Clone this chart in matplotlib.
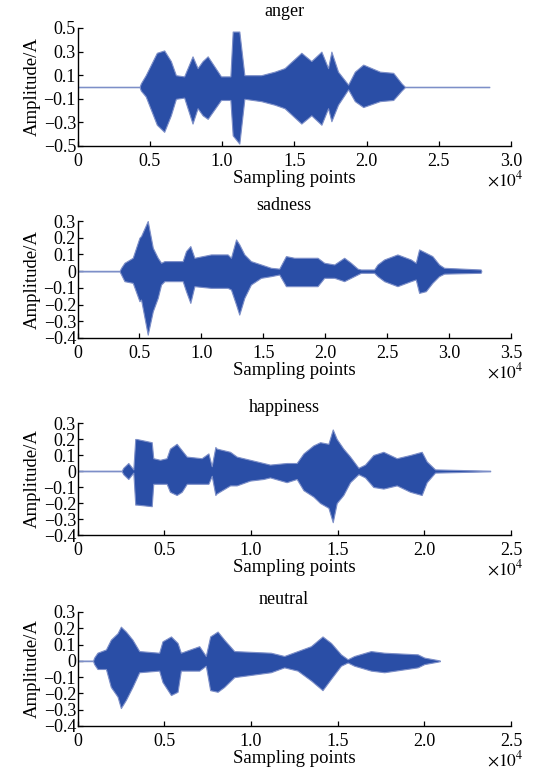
#!/usr/bin/env python3
"""Speech waveforms for four emotions, drawn as amplitude envelopes."""

import matplotlib

matplotlib.use("Agg")
import matplotlib.pyplot as plt

plt.rcParams["font.family"] = ["Liberation Serif", "DejaVu Serif"]
plt.rcParams["mathtext.fontset"] = "stix"

TITLES = ["anger", "sadness", "happiness", "neutral"]

# envelope of each waveform: sample index, upper and lower amplitude
ANGER_X = [0, 4300, 4380, 4720, 5490, 6000, 6460, 6810, 7380, 7960, 8310, 8660,
           9010, 9930, 10580, 10740, 11200, 11550, 12710, 13640, 14330, 15490,
           16180, 16880, 17340, 17570, 18030, 18730, 19190, 19770, 20930, 21850,
           22430, 22660, 28500]
ANGER_UP = [0.002, 0.002, 0.03, 0.10, 0.29, 0.31, 0.22, 0.10, 0.09, 0.26, 0.16,
            0.22, 0.26, 0.09, 0.09, 0.47, 0.47, 0.10, 0.10, 0.13, 0.16, 0.29,
            0.22, 0.30, 0.16, 0.30, 0.13, 0.02, 0.13, 0.19, 0.13, 0.12, 0.03,
            0.002, 0.002]
ANGER_LO = [-0.002, -0.002, -0.03, -0.08, -0.32, -0.38, -0.24, -0.10, -0.09,
            -0.31, -0.18, -0.24, -0.27, -0.11, -0.11, -0.41, -0.48, -0.10, -0.12,
            -0.15, -0.18, -0.31, -0.24, -0.32, -0.18, -0.29, -0.15, -0.02, -0.12,
            -0.17, -0.12, -0.11, -0.03, -0.002, -0.002]

SAD_X = [0, 3400, 3520, 3790, 4460, 5000, 5130, 5670, 6080, 6480, 6750, 7020,
         8490, 8760, 9110, 9440, 10780, 12120, 12390, 12800, 13060, 13470, 14000,
         14810, 15620, 16290, 16830, 17500, 19380, 19920, 20730, 21530, 22070,
         22610, 22880, 23950, 24220, 24760, 25830, 26910, 27310, 27580, 28120,
         28650, 29190, 29600, 32550, 32600]
SAD_UP = [0.002, 0.002, 0.02, 0.05, 0.08, 0.20, 0.21, 0.30, 0.14, 0.08, 0.05,
          0.06, 0.06, 0.12, 0.15, 0.08, 0.10, 0.10, 0.08, 0.19, 0.16, 0.10, 0.06,
          0.04, 0.02, 0.015, 0.09, 0.08, 0.08, 0.05, 0.04, 0.08, 0.05, 0.015,
          0.01, 0.01, 0.04, 0.07, 0.10, 0.07, 0.05, 0.13, 0.11, 0.09, 0.04, 0.02,
          0.01, 0.002]
SAD_LO = [-0.002, -0.002, -0.02, -0.06, -0.07, -0.18, -0.17, -0.38, -0.24, -0.16,
          -0.08, -0.06, -0.06, -0.12, -0.19, -0.09, -0.10, -0.10, -0.11, -0.20,
          -0.26, -0.16, -0.08, -0.04, -0.03, -0.02, -0.09, -0.09, -0.09, -0.04,
          -0.04, -0.06, -0.04, -0.02, -0.01, -0.01, -0.03, -0.06, -0.09, -0.06,
          -0.05, -0.13, -0.12, -0.07, -0.03, -0.015, -0.01, -0.002]

HAPPY_X = [0, 2550, 2640, 2930, 3220, 3330, 3410, 4280, 4370, 4760, 5140, 5330,
           5720, 6010, 6300, 7160, 7550, 7740, 7950, 8030, 8800, 9180, 9950,
           10720, 11100, 12060, 12640, 13030, 13600, 13990, 14470, 14720, 14950,
           15330, 15720, 16200, 16580, 17060, 17640, 18410, 19180, 19850, 20140,
           20620, 23800]
HAPPY_UP = [0.002, 0.002, 0.02, 0.05, 0.01, 0.20, 0.20, 0.18, 0.08, 0.07, 0.08,
            0.14, 0.17, 0.13, 0.09, 0.08, 0.11, 0.03, 0.15, 0.14, 0.12, 0.09,
            0.07, 0.05, 0.04, 0.05, 0.05, 0.11, 0.16, 0.18, 0.17, 0.26, 0.20,
            0.14, 0.09, 0.02, 0.04, 0.10, 0.12, 0.08, 0.10, 0.12, 0.06, 0.01,
            0.002]
HAPPY_LO = [-0.002, -0.002, -0.02, -0.05, -0.01, -0.21, -0.21, -0.22, -0.08,
            -0.08, -0.08, -0.13, -0.15, -0.13, -0.08, -0.08, -0.08, -0.03, -0.15,
            -0.14, -0.09, -0.09, -0.06, -0.05, -0.04, -0.07, -0.05, -0.12, -0.16,
            -0.20, -0.23, -0.32, -0.20, -0.15, -0.07, -0.02, -0.04, -0.10, -0.11,
            -0.09, -0.13, -0.15, -0.07, -0.01, -0.002]

NEUTRAL_X = [0, 900, 960, 1150, 1640, 1920, 2310, 2500, 2790, 3170, 3560, 4710,
             4900, 5390, 5770, 5960, 7020, 7400, 7650, 8080, 8460, 9040, 11150,
             11920, 12690, 13460, 14130, 14620, 15190, 15580, 15960, 16920,
             17690, 19620, 20000, 20770, 20900]
NEUTRAL_UP = [0.002, 0.002, 0.02, 0.05, 0.07, 0.13, 0.17, 0.21, 0.18, 0.13,
              0.06, 0.05, 0.12, 0.15, 0.11, 0.05, 0.09, 0.03, 0.15, 0.18, 0.13,
              0.06, 0.05, 0.03, 0.06, 0.09, 0.15, 0.11, 0.04, 0.01, 0.03, 0.06,
              0.05, 0.04, 0.02, 0.005, 0.002]
NEUTRAL_LO = [-0.002, -0.002, -0.02, -0.05, -0.05, -0.16, -0.22, -0.29, -0.24,
              -0.16, -0.07, -0.06, -0.13, -0.21, -0.19, -0.06, -0.06, -0.03,
              -0.18, -0.19, -0.16, -0.10, -0.07, -0.04, -0.06, -0.12, -0.18,
              -0.11, -0.03, -0.01, -0.03, -0.06, -0.07, -0.04, -0.02, -0.005,
              -0.002]

# axis ranges and tick labels
X_MAX = [30000, 35000, 25000, 25000]
X_TICK_LABELS = [
    ["0", "0.5", "1.0", "1.5", "2.0", "2.5", "3.0"],
    ["0", "0.5", "1.0", "1.5", "2.0", "2.5", "3.0", "3.5"],
    ["0", "0.5", "1.0", "1.5", "2.0", "2.5"],
    ["0", "0.5", "1.0", "1.5", "2.0", "2.5"],
]
ANGER_Y_TICKS = [0.5, 0.3, 0.1, -0.1, -0.3, -0.5]
ANGER_Y_LABELS = ["0.5", "0.3", "0.1", "\u22120.1", "\u22120.3", "\u22120.5"]
OTHER_Y_TICKS = [0.3, 0.2, 0.1, 0, -0.1, -0.2, -0.3, -0.4]
OTHER_Y_LABELS = ["0.3", "0.2", "0.1", "0", "\u22120.1", "\u22120.2",
                  "\u22120.3", "\u22120.4"]

WAVE = "#2a4ea6"
EDGE = "#7d8fc8"

W, H = 536, 775
# axes boxes in pixels: top, bottom
BOXES = [(28, 146), (221, 338), (423, 535), (612, 726)]
TITLE_Y = [12, 205, 407, 600]
LEFT, RIGHT = 77.5, 511


def main() -> None:
    fig = plt.figure(figsize=(W / 100, H / 100), dpi=100)
    series = [
        (ANGER_X, ANGER_UP, ANGER_LO),
        (SAD_X, SAD_UP, SAD_LO),
        (HAPPY_X, HAPPY_UP, HAPPY_LO),
        (NEUTRAL_X, NEUTRAL_UP, NEUTRAL_LO),
    ]

    for i, (xs, up, lo) in enumerate(series):
        top, bottom = BOXES[i]
        ax = fig.add_axes([LEFT / W, 1 - bottom / H, (RIGHT - LEFT) / W, (bottom - top) / H])

        ax.fill_between(xs, lo, up, facecolor=WAVE, edgecolor=EDGE, linewidth=0.8, zorder=2)
        ax.plot(xs, [0] * len(xs), color="#a9b1cf", linewidth=0.5, zorder=1)

        ax.set_xlim(0, X_MAX[i])
        ax.set_xticks([k * 5000 for k in range(len(X_TICK_LABELS[i]))])
        ax.set_xticklabels(X_TICK_LABELS[i])
        if i == 0:
            ax.set_ylim(-0.5, 0.5)
            ax.set_yticks(ANGER_Y_TICKS)
            ax.set_yticklabels(ANGER_Y_LABELS)
        else:
            ax.set_ylim(-0.4, 0.3)
            ax.set_yticks(OTHER_Y_TICKS)
            ax.set_yticklabels(OTHER_Y_LABELS)

        for side in ("top", "right"):
            ax.spines[side].set_visible(False)
        for side in ("left", "bottom"):
            ax.spines[side].set_linewidth(1.0)
        ax.tick_params(direction="in", length=3.5, width=0.9, labelsize=13, pad=1)
        ax.tick_params(axis="x", pad=5)
        ax.set_xlabel("Sampling points", fontsize=13.5, labelpad=0)
        ax.set_ylabel("Amplitude/A", fontsize=13.5, labelpad=2)

        fig.text(284 / W, 1 - TITLE_Y[i] / H, TITLES[i], ha="center", va="center", fontsize=13)
        fig.text(505 / W, 1 - (bottom + 34) / H, r"$\times10^4$", ha="center", va="center",
                 fontsize=12.5)

    fig.savefig("out.png", dpi=100)


if __name__ == "__main__":
    main()
